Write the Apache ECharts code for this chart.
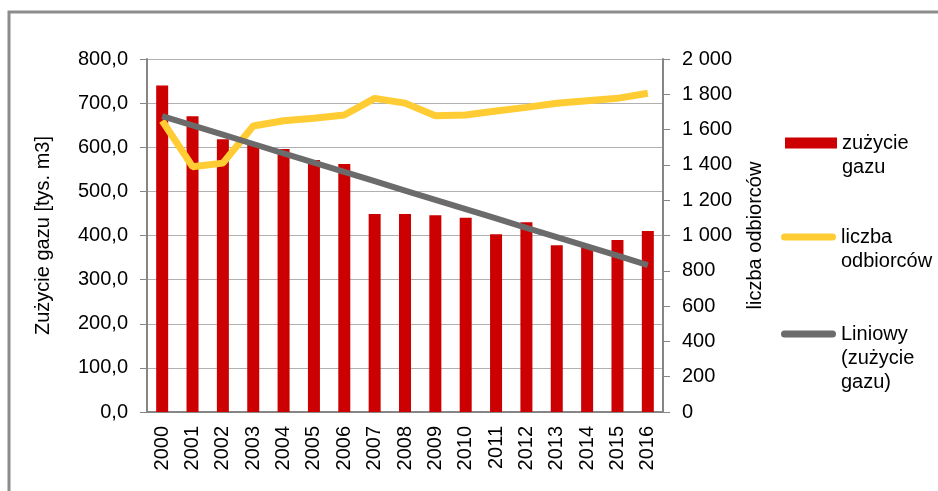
<!DOCTYPE html>
<html>
<head>
<meta charset="utf-8">
<script src="https://cdn.jsdelivr.net/npm/echarts@6/dist/echarts.min.js"></script>
<style>
  html, body { margin: 0; padding: 0; background: #fff; }
  #main { width: 938px; height: 491px; }
</style>
</head>
<body>
<div id="main"></div>
<script>
// lata
const years = ['2000', '2001', '2002', '2003', '2004', '2005', '2006', '2007', '2008',
  '2009', '2010', '2011', '2012', '2013', '2014', '2015', '2016'];
// zużycie gazu [tys. m3]
const gasUse = [740, 670, 618, 605, 596, 571, 562, 449, 449, 446, 440, 403, 430, 378, 375, 390, 410];
// liczba odbiorców
const customers = [1650, 1390, 1410, 1620, 1650, 1664, 1683, 1777, 1750, 1679, 1683, 1705, 1726, 1749, 1764, 1777, 1806];

// trend liniowy (metoda najmniejszych kwadratów) liczony z danych zużycia
const trend = (function () {
  const n = gasUse.length;
  let sx = 0, sy = 0, sxy = 0, sxx = 0;
  gasUse.forEach((y, i) => { sx += i; sy += y; sxy += i * y; sxx += i * i; });
  const b = (n * sxy - sx * sy) / (n * sxx - sx * sx);
  const a = (sy - b * sx) / n;
  return gasUse.map((_, i) => +(a + b * i).toFixed(2));
})();

const FONT = 'Liberation Sans, Arial, sans-serif';
const fmtLeft = v => v.toFixed(1).replace('.', ',');
const fmtRight = v => v >= 1000 ? Math.floor(v / 1000) + ' ' + String(v % 1000).padStart(3, '0') : String(v);
// ikona legendy: linia z zaokrąglonymi końcami
const capsule = 'path://M3.5,0 L51.5,0 A3.5,3.5 0 0 1 51.5,7 L3.5,7 A3.5,3.5 0 0 1 3.5,0 Z';
// puste linie na początku, żeby pierwsza linia tekstu była na wysokości ikony
const topAlign = name => '\n'.repeat(name.split('\n').length - 1) + name;

const chart = echarts.init(document.getElementById('main'));

const legendBase = {
  orient: 'vertical',
  itemGap: 0,
  selectedMode: false,
  formatter: topAlign,
  textStyle: { color: '#000', fontSize: 20, fontFamily: FONT, lineHeight: 24 }
};

chart.setOption({
  backgroundColor: '#fff',
  animation: false,
  graphic: [{
    type: 'rect',
    shape: { x: 9, y: 12, width: 1000, height: 600 },
    style: { fill: 'none', stroke: '#8c8c8c', lineWidth: 3 },
    silent: true
  }],
  grid: { left: 147, right: 275, top: 59, bottom: 79 },
  legend: [
    Object.assign({}, legendBase, {
      left: 780, top: 102,
      itemWidth: 52, itemHeight: 11,
      data: [{ name: 'zużycie\ngazu', icon: 'rect' }]
    }),
    Object.assign({}, legendBase, {
      left: 776, top: 196,
      itemWidth: 55, itemHeight: 7,
      data: [{ name: 'liczba\nodbiorców', icon: capsule }]
    }),
    Object.assign({}, legendBase, {
      left: 776, top: 269,
      itemWidth: 55, itemHeight: 7,
      data: [{ name: 'Liniowy\n(zużycie\ngazu)', icon: capsule }]
    })
  ],
  xAxis: {
    type: 'category',
    data: years,
    axisLine: { lineStyle: { color: '#868686', width: 2 } },
    axisTick: { length: 6, lineStyle: { color: '#868686', width: 2 } },
    axisLabel: { rotate: 90, margin: 14, color: '#000', fontSize: 20, fontFamily: FONT, interval: 0 }
  },
  yAxis: [{
    type: 'value',
    min: 0, max: 800, interval: 100,
    name: 'Zużycie gazu [tys. m3]',
    nameLocation: 'middle',
    nameGap: 94,
    nameTextStyle: { color: '#000', fontSize: 20, fontFamily: FONT },
    axisLine: { show: true, lineStyle: { color: '#868686', width: 2 } },
    axisTick: { show: true, length: 7, lineStyle: { color: '#868686', width: 1 } },
    axisLabel: { margin: 19, color: '#000', fontSize: 20, fontFamily: FONT, formatter: fmtLeft },
    splitLine: { lineStyle: { color: '#b0b0b0', width: 1 } }
  }, {
    type: 'value',
    min: 0, max: 2000, interval: 200,
    position: 'right',
    name: 'liczba odbiorców',
    nameLocation: 'middle',
    nameGap: 82,
    nameRotate: 90,
    nameTextStyle: { color: '#000', fontSize: 20, fontFamily: FONT },
    axisLine: { show: true, lineStyle: { color: '#868686', width: 2 } },
    axisTick: { show: true, length: 7, lineStyle: { color: '#868686', width: 1 } },
    axisLabel: { margin: 19, color: '#000', fontSize: 20, fontFamily: FONT, formatter: fmtRight },
    splitLine: { show: false }
  }],
  series: [{
    name: 'zużycie\ngazu',
    type: 'bar',
    data: gasUse,
    barWidth: 12,
    itemStyle: { color: '#cc0000' }
  }, {
    name: 'liczba\nodbiorców',
    type: 'line',
    yAxisIndex: 1,
    data: customers,
    symbol: 'none',
    lineStyle: { color: '#ffcc33', width: 7 },
    itemStyle: { color: '#ffcc33' },
    z: 3
  }, {
    name: 'Liniowy\n(zużycie\ngazu)',
    type: 'line',
    yAxisIndex: 0,
    data: trend,
    symbol: 'none',
    lineStyle: { color: '#6b6b6b', width: 6 },
    itemStyle: { color: '#6b6b6b' },
    z: 4
  }]
});
</script>
</body>
</html>
